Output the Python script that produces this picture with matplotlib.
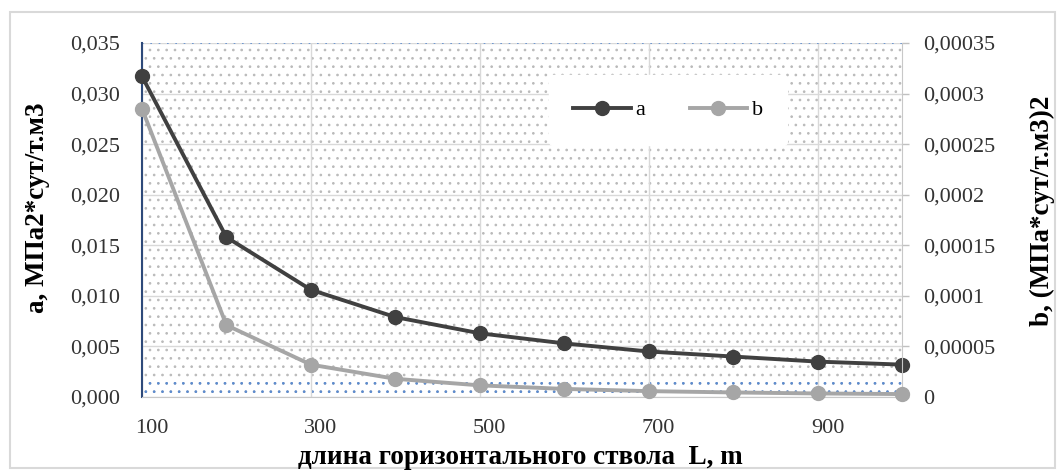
import matplotlib
matplotlib.use("Agg")
import matplotlib.pyplot as plt
import matplotlib.patches as mpatches
import matplotlib.transforms as mtransforms
from matplotlib.ticker import FuncFormatter, MultipleLocator

# ---------- Data ----------
L_VALUES = [100, 200, 300, 400, 500, 600, 700, 800, 900, 1000]
A_VALUES = [0.0317, 0.0158, 0.0106, 0.0079, 0.0063, 0.0053, 0.0045, 0.0040, 0.0035, 0.0032]
B_VALUES = [0.000285, 0.000071, 0.000032, 0.000018, 0.0000115, 0.000008,
            0.0000058, 0.0000045, 0.0000035, 0.0000029]
X_TICKS = [100, 300, 500, 700, 900]

X_LABEL = "длина горизонтального ствола  L, m"
Y_LABEL_LEFT = "a, МПа2*сут/т.м3"
Y_LABEL_RIGHT = "b, (МПа*сут/т.м3)2"

COLOR_A = "#404040"
COLOR_B = "#a6a6a6"
GRID = "#d9d9d9"
DOTS_BLUE = "#5b8bd0"

plt.rcParams['font.family'] = ['Liberation Serif', 'DejaVu Serif']
plt.rcParams['hatch.linewidth'] = 0.7

W, H = 1061, 470
fig = plt.figure(figsize=(W / 100, H / 100), dpi=100)
fig.patch.set_facecolor('white')

# outer frame of the chart
fig.patches.append(mpatches.Rectangle((10 / W, 2 / H), 1045 / W, 1 - 14 / H,
                                      transform=fig.transFigure, fill=False,
                                      edgecolor='#d9d9d9', linewidth=1.5))

ax = fig.add_axes([142 / W, 1 - 397 / H, 760 / W, 354 / H])
ax2 = ax.twinx()

# dotted plot-area fill (Excel pattern)
ax.patch.set_facecolor('white')
ax.add_patch(mpatches.Rectangle((0, 0), 1, 1, transform=ax.transAxes,
                                facecolor='white', edgecolor='#bababa',
                                linewidth=0, hatch='..', zorder=0))
ax.add_patch(mpatches.Rectangle((0, 0), 1, 0.05, transform=ax.transAxes,
                                facecolor='none', edgecolor=DOTS_BLUE,
                                linewidth=0, hatch='..', zorder=0.1))

ax.plot(L_VALUES, A_VALUES, color=COLOR_A, lw=2.8, marker='o', ms=10,
        label='a', zorder=5, clip_on=False)
ax2.plot(L_VALUES, B_VALUES, color=COLOR_B, lw=2.8, marker='o', ms=10,
         label='b', zorder=5, clip_on=False)

ax.set_xlim(100, 1000)
ax.set_ylim(0, 0.035)
ax2.set_ylim(0, 0.00035)
ax.set_xticks(X_TICKS)
ax.yaxis.set_major_locator(MultipleLocator(0.005))
ax2.yaxis.set_major_locator(MultipleLocator(0.00005))

ax.yaxis.set_major_formatter(FuncFormatter(lambda v, p: f"{v:.3f}".replace('.', ',')))


def right_fmt(v, p):
    if abs(v) < 1e-12:
        return "0"
    s = f"{v:.5f}".rstrip('0')
    return s.replace('.', ',')


ax2.yaxis.set_major_formatter(FuncFormatter(right_fmt))

ax.grid(True, color=GRID, lw=1.0, zorder=1)
ax.set_axisbelow(True)
# blue dotted top edge
ax.axhline(0.035, color=DOTS_BLUE, lw=1.2, linestyle=(0, (1, 4)), zorder=1.5)

ax.tick_params(axis='y', length=0, pad=16, labelsize=16, colors='#333333')
ax.tick_params(axis='x', length=0, pad=16, labelsize=16, colors='#333333')
ax2.tick_params(axis='y', length=5, width=1, color='#c0c0c0', pad=10,
                labelsize=16, labelcolor='#333333')

# category-style labels sit a little right of the points
shift = mtransforms.ScaledTranslation(0.1, 0, fig.dpi_scale_trans)
for lbl in ax.get_xticklabels():
    lbl.set_transform(lbl.get_transform() + shift)

for a in (ax, ax2):
    for side in ('top', 'left', 'right', 'bottom'):
        a.spines[side].set_visible(False)
ax.spines['left'].set_visible(True)
ax.spines['left'].set_color('#2e4a7a')
ax.spines['left'].set_linewidth(1.5)
ax2.spines['right'].set_visible(True)
ax2.spines['right'].set_color('#c8c8c8')
ax.spines['bottom'].set_visible(True)
ax.spines['bottom'].set_color('#c8c8c8')

# legend
handles = ax.get_lines()[:1] + ax2.get_lines()
leg = fig.legend(handles=handles, labels=['a', 'b'], loc='center',
                 bbox_to_anchor=(668 / W, 1 - 110 / H), ncol=2, fontsize=16,
                 frameon=True, handlelength=2.6, columnspacing=2.0,
                 handletextpad=0.2, borderpad=1.1)
leg.get_frame().set_facecolor('white')
leg.get_frame().set_edgecolor('white')
leg.get_frame().set_alpha(1)

fig.text(520 / W, 1 - 458 / H, X_LABEL, ha='center', va='center',
         fontsize=19.5, fontweight='bold')
fig.text(38 / W, 1 - 208 / H, Y_LABEL_LEFT, ha='center', va='center',
         rotation=90, fontsize=19.5, fontweight='bold')
fig.text(1042 / W, 1 - 211 / H, Y_LABEL_RIGHT, ha='center', va='center',
         rotation=90, fontsize=19.5, fontweight='bold')

fig.savefig('out.png', dpi=100)
